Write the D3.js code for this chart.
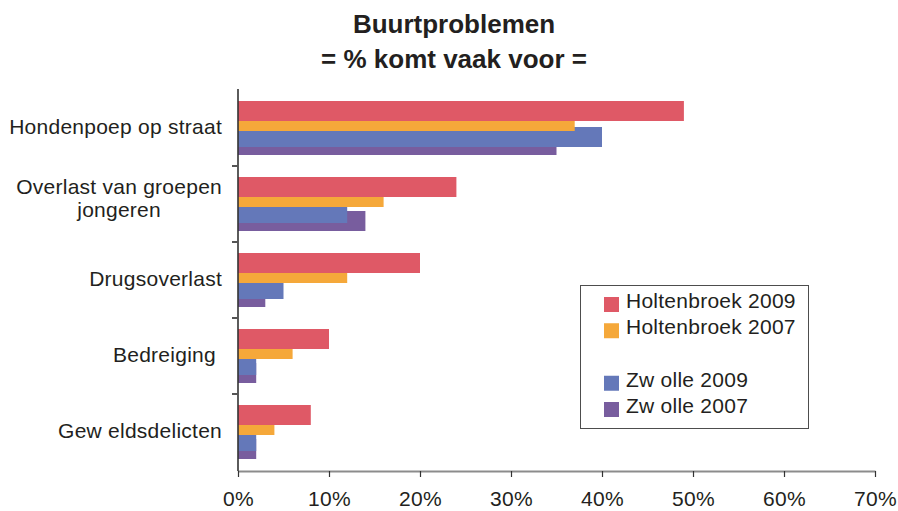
<!DOCTYPE html>
<html>
<head>
<meta charset="utf-8">
<script src="https://cdn.jsdelivr.net/npm/d3@7"></script>
<style>
  html, body { margin: 0; padding: 0; background: #fff; }
  svg { display: block; font-family: "Liberation Sans", Arial, sans-serif; }
</style>
</head>
<body>
<svg id="chart" width="898" height="511"></svg>
<script>
// Neighbourhood problems: share of residents saying the problem occurs often
const categories = [
  ["Hondenpoep op straat"],
  ["Overlast van groepen", "jongeren"],
  ["Drugsoverlast"],
  ["Bedreiging\u00a0"],
  ["Gew eldsdelicten"]
];
const categoryKeys = ["hondenpoep", "overlast", "drugs", "bedreiging", "geweld"];

const seriesNames = ["Holtenbroek 2009", "Holtenbroek 2007", "Zw olle 2009", "Zw olle 2007"];
const seriesColors = ["#df5966", "#f5a83a", "#6478b9", "#785d9e"];

const holtenbroek2009 = [49, 24, 20, 10, 8];
const holtenbroek2007 = [37, 16, 12, 6, 4];
const zwolle2009 = [40, 12, 5, 2, 2];
const zwolle2007 = [35, 14, 3, 2, 2];
const seriesValues = [holtenbroek2009, holtenbroek2007, zwolle2009, zwolle2007];

const xTicks = [0, 10, 20, 30, 40, 50, 60, 70];

const svg = d3.select("#chart");
const plotLeft = 238, plotRight = 875, plotTop = 90, plotBottom = 470;
const labelSize = 21, labelSpacing = 0.25;

const x = d3.scaleLinear().domain([0, 70]).range([plotLeft, plotRight]);
const y = d3.scaleBand().domain(categoryKeys).range([plotTop, plotBottom]).paddingInner(0);
const bw = y.bandwidth();

// offset of each series' bar inside a category band (bars overlap)
const seriesOffset = d3.scaleOrdinal().domain(seriesNames).range([11, 21, 37, 45].map(v => v / 76 * bw));
const barH = 20 / 76 * bw;

// Title
const title = svg.append("g").attr("font-weight", "bold").attr("fill", "#231f20")
  .attr("text-anchor", "middle").attr("font-size", 26);
title.append("text").attr("x", 454).attr("y", 33).text("Buurtproblemen");
title.append("text").attr("x", 454).attr("y", 68).text("= % komt vaak voor =");

// Bars: later series drawn first so earlier ones lie on top
const order = d3.range(seriesNames.length).reverse();
order.forEach(si => {
  svg.append("g").selectAll("rect")
    .data(seriesValues[si])
    .join("rect")
    .attr("x", x(0))
    .attr("y", (d, i) => y(categoryKeys[i]) + seriesOffset(seriesNames[si]))
    .attr("width", d => x(d) - x(0))
    .attr("height", barH)
    .attr("fill", seriesColors[si]);
});

// Bottom axis
const xAxis = d3.axisBottom(x).tickValues(xTicks).tickFormat(d => d + "%")
  .tickSize(6).tickSizeOuter(0).tickPadding(14);
const gx = svg.append("g").attr("transform", `translate(0,${plotBottom + 1})`).call(xAxis);
gx.select(".domain").attr("stroke", "#8c8c8c").attr("stroke-width", 2.2);
gx.selectAll(".tick line").attr("stroke", "#333").attr("stroke-width", 1.2);
gx.selectAll(".tick text").attr("font-size", labelSize).attr("letter-spacing", labelSpacing)
  .attr("fill", "#231f20").attr("font-family", "Liberation Sans, Arial, sans-serif");

// Left axis with ticks at band boundaries
svg.append("line").attr("x1", plotLeft).attr("x2", plotLeft).attr("y1", plotTop - 1).attr("y2", plotBottom + 1)
  .attr("stroke", "#333").attr("stroke-width", 1.6);
const boundaries = categoryKeys.slice(1).map(k => y(k));
svg.append("g").selectAll("line").data(boundaries).join("line")
  .attr("x1", plotLeft - 6).attr("x2", plotLeft).attr("y1", d => d).attr("y2", d => d)
  .attr("stroke", "#555").attr("stroke-width", 2);

// Category labels
const lab = svg.append("g").attr("font-size", labelSize).attr("letter-spacing", labelSpacing).attr("fill", "#231f20");
categories.forEach((lines, i) => {
  const cy = y(categoryKeys[i]) + bw / 2;
  if (lines.length === 1) {
    lab.append("text").attr("text-anchor", "end").attr("x", 222).attr("y", cy + 6).text(lines[0]);
  } else {
    // two-line label, second line centred under the first
    const first = lab.append("text").attr("text-anchor", "end").attr("x", 222).attr("y", cy - 10).text(lines[0]);
    const w = first.node().getComputedTextLength();
    lab.append("text").attr("text-anchor", "middle").attr("x", 222 - w / 2).attr("y", cy + 13).text(lines[1]);
  }
});

// Legend (with an empty slot between the two groups)
const legendItems = [seriesNames[0], seriesNames[1], "", seriesNames[2], seriesNames[3]];
const legendY = d3.scalePoint().domain(d3.range(legendItems.length)).range([308, 413]);
const lg = svg.append("g");
lg.append("rect").attr("x", 580.5).attr("y", 285.5).attr("width", 228).attr("height", 143)
  .attr("fill", "#fff").attr("stroke", "#4d4d4d").attr("stroke-width", 1);
legendItems.forEach((name, i) => {
  if (!name) return;
  const si = seriesNames.indexOf(name);
  const by = legendY(i);
  lg.append("rect").attr("x", 604).attr("y", by - 11).attr("width", 15).attr("height", 15)
    .attr("fill", seriesColors[si]);
  lg.append("text").attr("x", 626).attr("y", by).attr("font-size", labelSize)
    .attr("letter-spacing", labelSpacing).attr("fill", "#231f20").text(name);
});
</script>
</body>
</html>
